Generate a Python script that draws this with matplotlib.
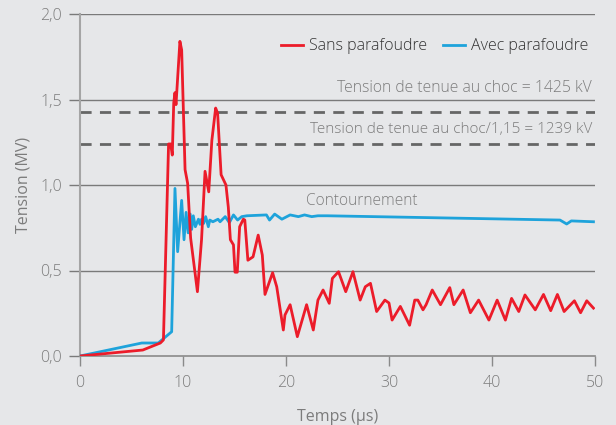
import matplotlib
matplotlib.use("Agg")
import matplotlib.pyplot as plt

# ---- data ----
t_sans = [0, 6.1, 7.8, 8.1, 8.6, 8.8, 8.96, 9.1, 9.22, 9.32, 9.7, 9.87, 10.2, 10.45, 10.74,
          11.4, 11.8, 12.14, 12.5, 12.8, 13.17, 13.36, 13.7, 14.17, 14.4, 14.6, 14.9, 15.05,
          15.27, 15.5, 15.86, 16.0, 16.3, 16.8, 17.3, 17.7, 17.96, 18.7, 19.1, 19.74, 19.9,
          20.4, 21.1, 22.0, 22.65, 23.1, 23.6, 24.2, 24.5, 25.1, 25.8, 26.5, 27.2, 27.7,
          28.2, 28.8, 29.6, 30.0, 30.3, 31.1, 32.0, 32.5, 32.8, 33.3, 33.6, 34.2, 35.0, 35.9,
          36.3, 37.2, 37.9, 38.7, 39.7, 40.5, 41.3, 41.9, 42.6, 43.2, 44.2, 45.0, 45.7, 46.35,
          47.0, 48.0, 48.6, 49.2, 49.85]
v_sans = [0, 0.035, 0.076, 0.094, 1.24, 1.24, 1.175, 1.48, 1.54, 1.47, 1.84, 1.79, 1.09, 1.01,
          0.69, 0.376, 0.68, 1.08, 0.96, 1.26, 1.45, 1.42, 1.06, 1.0, 0.87, 0.68, 0.65, 0.49,
          0.49, 0.756, 0.80, 0.795, 0.56, 0.58, 0.707, 0.59, 0.36, 0.487, 0.405, 0.152, 0.24,
          0.30, 0.113, 0.30, 0.152, 0.327, 0.386, 0.308, 0.454, 0.493, 0.376, 0.493, 0.327,
          0.405, 0.425, 0.26, 0.327, 0.31, 0.21, 0.29, 0.18, 0.327, 0.327, 0.27, 0.30, 0.386,
          0.30, 0.40, 0.30, 0.386, 0.253, 0.327, 0.21, 0.327, 0.21, 0.337, 0.26, 0.357, 0.27,
          0.36, 0.265, 0.36, 0.26, 0.323, 0.253, 0.323, 0.28]

t_avec = [0, 6.0, 7.6, 8.9, 9.22, 9.48, 9.87, 10.1, 10.3, 10.5, 10.7, 10.84, 11.0, 11.2, 11.5,
          11.65, 11.8, 12.0, 12.2, 12.46, 12.6, 12.9, 13.4, 13.6, 14.1, 14.5, 14.9, 15.3,
          15.7, 16.2, 18.1, 18.4, 18.9, 19.6, 20.4, 21.2, 21.8, 22.5, 23.1, 24.0, 46.6,
          47.25, 47.7, 49.85]
v_avec = [0, 0.076, 0.076, 0.142, 0.98, 0.61, 0.91, 0.68, 0.84, 0.72, 0.83, 0.74, 0.82, 0.756,
          0.80, 0.77, 0.80, 0.775, 0.815, 0.756, 0.795, 0.785, 0.80, 0.785, 0.815, 0.78, 0.825,
          0.795, 0.815, 0.82, 0.825, 0.795, 0.83, 0.80, 0.825, 0.815, 0.825, 0.815, 0.82, 0.82,
          0.795, 0.772, 0.79, 0.785]

y_ticks = [0.0, 0.5, 1.0, 1.5, 2.0]
y_ticklabels = ["0,0", "0,5", "1,0", "1,5", "2,0"]
x_ticks = [0, 10, 20, 30, 40, 50]
tenue = 1.425
tenue_115 = 1.239

# ---- style ----
BG = "#e6e7e9"
RED = "#ec1c2a"
BLUE = "#1ea3db"
GRID = "#7a7a7a"
TXT = "#7c7c7c"

plt.rcParams['font.family'] = ['Open Sans', 'DejaVu Sans']
plt.rcParams['font.weight'] = 'light'

fig = plt.figure(figsize=(6.16, 4.25), dpi=100, facecolor=BG)
ax = fig.add_axes([80/616, 1-356/425, 515/616, 342/425])
ax.set_facecolor(BG)

for y in y_ticks[1:]:
    ax.axhline(y, color=GRID, lw=1.0, zorder=1)
ax.axhline(tenue, color="#666666", lw=2, ls=(0, (4, 3)), zorder=1)
ax.axhline(tenue_115, color="#666666", lw=2, ls=(0, (4, 3)), zorder=1)

ax.plot(t_avec, v_avec, color=BLUE, lw=2, zorder=3, label="Avec parafoudre")
ax.plot(t_sans, v_sans, color=RED, lw=2, zorder=4, label="Sans parafoudre")

ax.set_xlim(0, 50)
ax.set_ylim(0, 2.0)
ax.set_yticks(y_ticks)
ax.set_yticklabels(y_ticklabels)
ax.set_xticks(x_ticks)

for s in ["top", "right"]:
    ax.spines[s].set_visible(False)
ax.spines["left"].set_color("#a5a5a5")
ax.spines["left"].set_linewidth(1.5)
ax.spines["bottom"].set_color("#8a8a8a")
ax.spines["bottom"].set_linewidth(1.2)
ax.tick_params(axis="y", length=8, width=1.0, color=GRID, pad=5, labelsize=11.5, labelcolor=TXT)
ax.tick_params(axis="x", length=7.5, width=1.0, color="#8a8a8a", pad=6, labelsize=11.5, labelcolor=TXT)

ax.set_xlabel("Temps (µs)", color=TXT, fontsize=11.5, labelpad=13)
ax.set_ylabel("Tension (MV)", color=TXT, fontsize=11.5, labelpad=6)

ax.text(49.7, 1.57, "Tension de tenue au choc = 1425 kV", ha="right", va="center",
        color=TXT, fontsize=11.3)
ax.text(49.7, 1.325, "Tension de tenue au choc/1,15 = 1239 kV", ha="right", va="center",
        color=TXT, fontsize=11.0)
ax.text(21.9, 0.905, "Contournement", ha="left", va="center", color=TXT, fontsize=11.2)

h, l = ax.get_legend_handles_labels()
leg = ax.legend([h[1], h[0]], [l[1], l[0]], loc="center right", bbox_to_anchor=(1.015, 0.905),
                ncol=2, frameon=False, handlelength=1.4, handletextpad=0.35,
                columnspacing=1.0, fontsize=11.5)
for txt in leg.get_texts():
    txt.set_color("#333333")

fig.savefig("out.png", dpi=100, facecolor=BG)
